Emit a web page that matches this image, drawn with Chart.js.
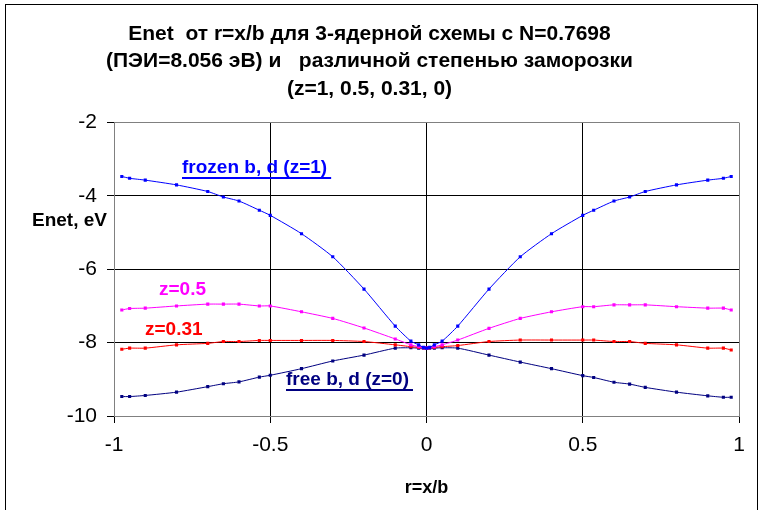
<!DOCTYPE html>
<html>
<head>
<meta charset="utf-8">
<script src="https://cdn.jsdelivr.net/npm/chart.js@4/dist/chart.umd.min.js"></script>
<style>
  html, body { margin: 0; padding: 0; background: #fff; }
  #wrap { width: 765px; height: 510px; }
</style>
</head>
<body>
<div id="wrap"><canvas id="chart" width="765" height="510"></canvas></div>
<script>
// r = x/b positions
var rValues = [-0.975, -0.95, -0.9, -0.8, -0.7, -0.65, -0.6, -0.535, -0.5, -0.4, -0.3, -0.2, -0.1, -0.05, -0.025, -0.01, 0,
               0.01, 0.025, 0.05, 0.1, 0.2, 0.3, 0.4, 0.5, 0.535, 0.6, 0.65, 0.7, 0.8, 0.9, 0.95, 0.975];

// Enet, eV for each freeze degree
var enetZ1 = [-3.47, -3.52, -3.57, -3.70, -3.88, -4.03, -4.14, -4.39, -4.53, -5.03, -5.66, -6.54, -7.55, -7.96, -8.06, -8.13, -8.15,
              -8.13, -8.06, -7.96, -7.55, -6.54, -5.66, -5.03, -4.53, -4.39, -4.14, -4.03, -3.88, -3.70, -3.57, -3.52, -3.47];
var enetZ05 = [-7.11, -7.07, -7.06, -7.00, -6.95, -6.95, -6.95, -7.00, -7.00, -7.16, -7.34, -7.60, -7.90, -8.06, -8.11, -8.14, -8.15,
               -8.14, -8.11, -8.06, -7.93, -7.61, -7.34, -7.16, -7.02, -7.02, -6.97, -6.97, -6.97, -7.02, -7.06, -7.06, -7.11];
var enetZ031 = [-8.18, -8.15, -8.15, -8.06, -8.02, -7.97, -7.97, -7.94, -7.94, -7.94, -7.94, -7.97, -8.06, -8.11, -8.13, -8.14, -8.15,
                -8.14, -8.13, -8.11, -8.08, -7.97, -7.93, -7.93, -7.93, -7.93, -7.97, -7.97, -8.02, -8.06, -8.15, -8.15, -8.20];
var enetZ0 = [-9.47, -9.47, -9.44, -9.35, -9.20, -9.12, -9.07, -8.94, -8.89, -8.71, -8.50, -8.34, -8.15, -8.14, -8.15, -8.15, -8.15,
              -8.15, -8.15, -8.14, -8.15, -8.34, -8.53, -8.71, -8.90, -8.95, -9.08, -9.13, -9.22, -9.35, -9.45, -9.49, -9.49];

var seriesNames = ['frozen b, d (z=1)', 'z=0.5', 'z=0.31', 'free b, d (z=0)'];
var seriesColors = ['#0000FF', '#FF00FF', '#FF0000', '#000080'];

var titleLines = ['Enet  от r=x/b для 3-ядерной схемы с N=0.7698',
                  '(ПЭИ=8.056 эВ) и   различной степенью заморозки',
                  '(z=1, 0.5, 0.31, 0)'];

function toPoints(ys) {
    return rValues.map(function(r, i) { return {x: r, y: ys[i]}; });
}

function makeSet(i, ys) {
    return {
        label: seriesNames[i],
        data: toPoints(ys),
        borderColor: seriesColors[i],
        backgroundColor: seriesColors[i],
        borderWidth: 1,
        pointStyle: 'rect',
        pointRadius: 2.2,
        pointBorderWidth: 0,
        tension: 0.2
    };
}

// frame, labels on the curves, horizontal y title
var decor = {
    id: 'decor',
    beforeDraw: function(chart) {
        var ctx = chart.ctx;
        ctx.save();
        ctx.fillStyle = '#fff';
        ctx.fillRect(0, 0, chart.width, chart.height);
        ctx.strokeStyle = '#000';
        ctx.lineWidth = 1;
        ctx.strokeRect(5.5, 4.5, 752, 520);
        ctx.restore();
    },
    afterDraw: function(chart) {
        var ctx = chart.ctx;
        ctx.save();
        ctx.font = 'bold 19px "Liberation Sans", Arial, sans-serif';
        ctx.textBaseline = 'alphabetic';

        function tag(text, color, x, y, underline) {
            ctx.fillStyle = color;
            ctx.fillText(text, x, y);
            if (underline) {
                var w = ctx.measureText(text).width;
                ctx.fillRect(x, y + 4, w + 4, 2);
            }
        }
        tag(seriesNames[0], seriesColors[0], 182, 173, true);
        tag(seriesNames[1], seriesColors[1], 159, 295, false);
        tag(seriesNames[2], seriesColors[2], 145, 335, false);
        tag(seriesNames[3], seriesColors[3], 286, 385, true);

        ctx.fillStyle = '#000';
        ctx.textBaseline = 'middle';
        ctx.fillText('Enet, eV', 32, 221);
        ctx.restore();
    }
};

function gridColor(c) {
    var ticks = c.scale.ticks;
    if (c.index === 0 || c.index === ticks.length - 1) return '#808080';
    return '#000';
}

var config = {
    type: 'line',
    data: {
        datasets: [
            makeSet(0, enetZ1),
            makeSet(1, enetZ05),
            makeSet(2, enetZ031),
            makeSet(3, enetZ0)
        ]
    },
    options: {
        responsive: false,
        animation: false,
        layout: { padding: { left: 0, right: 26, top: 0, bottom: 0 } },
        plugins: {
            legend: { display: false },
            tooltip: { enabled: false },
            title: {
                display: true,
                text: titleLines,
                color: '#000',
                font: { family: '"Liberation Sans", Arial, sans-serif', size: 21, weight: 'bold', lineHeight: 1.31 },
                padding: { top: 20, bottom: 20 }
            }
        },
        scales: {
            x: {
                type: 'linear',
                min: -1,
                max: 1,
                ticks: {
                    stepSize: 0.5,
                    color: '#000',
                    padding: 10,
                    font: { family: '"Liberation Sans", Arial, sans-serif', size: 21 },
                    callback: function(v) { return v; }
                },
                grid: { color: gridColor, tickLength: 7, tickColor: '#000' },
                border: { color: '#808080' },
                title: {
                    display: true,
                    text: 'r=x/b',
                    color: '#000',
                    font: { family: '"Liberation Sans", Arial, sans-serif', size: 18, weight: 'bold' },
                    padding: { top: 0, bottom: 11 }
                },
                afterFit: function(scale) { scale.height = 94; }
            },
            y: {
                min: -10,
                max: -2,
                ticks: {
                    stepSize: 2,
                    color: '#000',
                    padding: 10,
                    font: { family: '"Liberation Sans", Arial, sans-serif', size: 21 }
                },
                grid: { color: gridColor, tickLength: 7, tickColor: '#000' },
                border: { color: '#808080' },
                afterFit: function(scale) { scale.width = 114; }
            }
        }
    },
    plugins: [decor]
};

window.onload = function() {
    var ctx = document.getElementById('chart').getContext('2d');
    window.myChart = new Chart(ctx, config);
};
</script>
</body>
</html>
